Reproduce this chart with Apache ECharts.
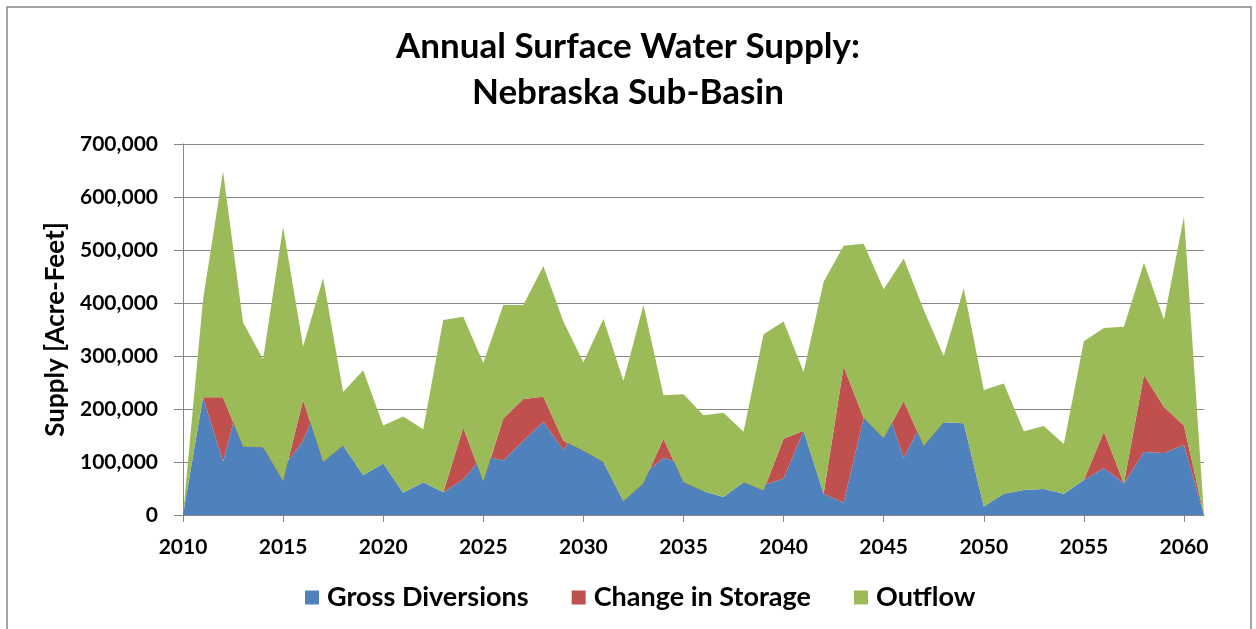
<!DOCTYPE html>
<html lang="en">
<head>
    <meta charset="UTF-8">
    <title>Annual Surface Water Supply</title>
    <script src="https://cdn.jsdelivr.net/npm/echarts@6/dist/echarts.min.js"></script>
</head>
<body style="margin:0;background:#fff">
<div id="chart" style="width:1256px;height:629px"></div>
<script>
    // years on the x axis
    let years = [];
    for (let y = 2010; y <= 2061; y++) years.push(String(y));

    // acre-feet
    let grossDiversions = [
        0, 222000, 101000, 244000, 128000, 90000, 140000, 233000, 131000, 75000,
        97000, 42000, 62000, 43000, 67000, 112000, 103000, 140000, 176000, 122000,
        180000, 100000, 26000, 76000, 108000, 96000, 45000, 34000, 62000, 56000,
        69000, 159000, 40000, 23000, 183000, 220000, 108000, 181000, 175000, 173000,
        16000, 40000, 47000, 49000, 40000, 66000, 88000, 60000, 119000, 117000,
        132000, 0
    ];
    let changeInStorage = [
        0, 0, 121000, -115000, 0, -26000, 77000, -133000, 0, 0,
        0, 0, 0, 0, 98000, -49000, 79000, 79000, 47000, 18000,
        -59000, 0, 0, -16000, 36000, -34000, 0, 0, 0, -10000,
        75000, 0, 0, 257000, 0, -75000, 107000, -51000, 0, 0,
        0, 0, 0, 0, 0, 0, 69000, 0, 145000, 87000,
        37000, 0
    ];
    let outflow = [
        0, 184000, 426000, 234000, 166000, 480000, 101000, 347000, 101000, 198000,
        72000, 144000, 100000, 325000, 209000, 224000, 214000, 177000, 247000, 225000,
        167000, 270000, 227000, 336000, 82000, 166000, 143000, 159000, 95000, 295000,
        221000, 111000, 400000, 228000, 329000, 281000, 269000, 257000, 125000, 255000,
        220000, 208000, 111000, 119000, 94000, 262000, 196000, 295000, 212000, 165000,
        394000, 0
    ];

    let fontName = 'Lato';
    let myChart = echarts.init(document.getElementById('chart'));

    function areaSeries(name, data, color) {
        return {
            name: name,
            type: 'line',
            stack: 'supply',
            stackStrategy: 'all',
            data: data,
            symbol: 'none',
            lineStyle: {width: 0},
            areaStyle: {color: color, opacity: 1},
            itemStyle: {color: color}
        };
    }

    let option = {
        animation: false,
        color: ['#4F81BD', '#C0504D', '#9BBB59'],
        graphic: [{
            type: 'rect',
            shape: {x: 7, y: 7, width: 1244, height: 660},
            style: {fill: 'none', stroke: '#868686', lineWidth: 1.5},
            z: -10
        }],
        title: {
            text: 'Annual Surface Water Supply:\nNebraska Sub-Basin',
            left: 'center',
            top: 24,
            padding: 0,
            textStyle: {
                fontFamily: fontName,
                fontWeight: 'bold',
                fontSize: 35,
                lineHeight: 46,
                color: '#000'
            }
        },
        legend: {
            bottom: 13,
            left: 300,
            icon: 'rect',
            itemWidth: 14,
            itemHeight: 14,
            itemGap: 43,
            textStyle: {
                fontFamily: fontName,
                fontWeight: 'bold',
                fontSize: 27,
                color: '#000',
                padding: [0, 0, 0, 3]
            },
            data: ['Gross Diversions', 'Change in Storage', 'Outflow']
        },
        grid: {
            left: 183,
            right: 52,
            top: 144,
            bottom: 114,
            containLabel: false
        },
        xAxis: {
            type: 'category',
            data: years,
            boundaryGap: false,
            axisLine: {lineStyle: {color: '#868686', width: 1}},
            axisTick: {interval: 4, length: 7, lineStyle: {color: '#868686'}},
            axisLabel: {
                interval: 4,
                margin: 22,
                fontFamily: fontName,
                fontWeight: 'bold',
                fontSize: 21,
                color: '#000'
            },
            splitLine: {show: false}
        },
        yAxis: {
            type: 'value',
            min: 0,
            max: 700000,
            interval: 100000,
            name: 'Supply [Acre-Feet]',
            nameLocation: 'middle',
            nameRotate: 90,
            nameGap: 113,
            nameTextStyle: {
                fontFamily: fontName,
                fontWeight: 'bold',
                fontSize: 26,
                color: '#000'
            },
            axisLine: {show: true, lineStyle: {color: '#868686', width: 1}},
            axisTick: {show: true, length: 9, lineStyle: {color: '#868686'}},
            axisLabel: {
                margin: 25,
                fontFamily: fontName,
                fontWeight: 'bold',
                fontSize: 21,
                color: '#000',
                formatter: function (v) {
                    return String(v).replace(/\B(?=(\d{3})+(?!\d))/g, ',');
                }
            },
            splitLine: {lineStyle: {color: '#868686', width: 1}}
        },
        series: [
            areaSeries('Gross Diversions', grossDiversions, '#4F81BD'),
            areaSeries('Change in Storage', changeInStorage, '#C0504D'),
            areaSeries('Outflow', outflow, '#9BBB59')
        ]
    };
    myChart.setOption(option);
</script>
</body>
</html>
